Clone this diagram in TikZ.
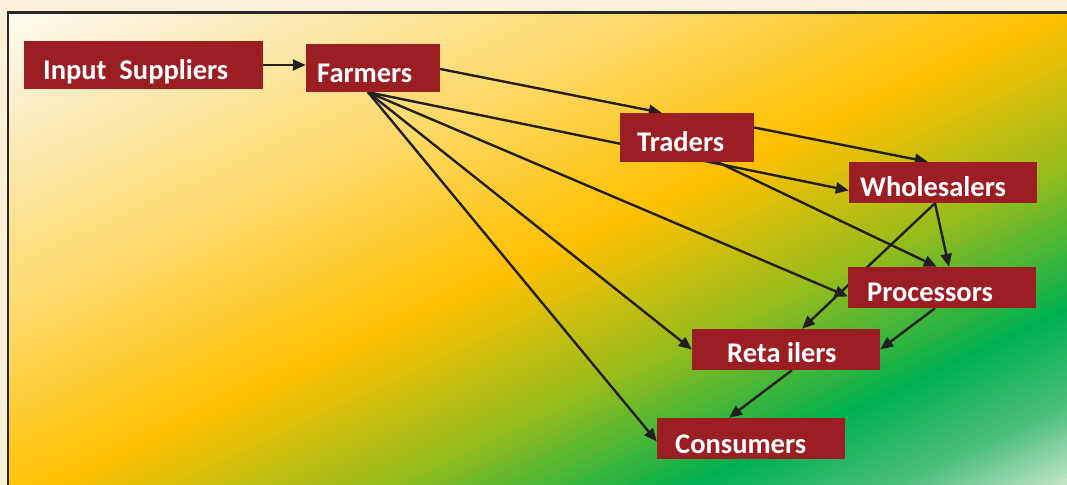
\documentclass[tikz,border=0pt]{standalone}
\usepackage{fontspec}
\setmainfont{Carlito}
\usetikzlibrary{arrows.meta,calc,backgrounds}
\definecolor{boxred}{RGB}{155,30,35}
\definecolor{linec}{RGB}{35,31,32}
\definecolor{marginc}{RGB}{251,241,217}
\definecolor{framec}{RGB}{40,40,40}
\definecolor{g0}{RGB}{255,255,250}
\definecolor{g1}{RGB}{250,238,200}
\definecolor{g2}{RGB}{253,224,133}
\definecolor{g3}{RGB}{254,216,100}
\definecolor{g4}{RGB}{255,192,0}
\definecolor{g5}{RGB}{150,188,28}
\definecolor{g6}{RGB}{0,176,80}
\definecolor{g7}{RGB}{80,192,125}
\definecolor{g8}{RGB}{215,237,215}
\begin{document}
\begin{tikzpicture}[x=1bp,y=-1bp,
  box/.style={fill=boxred, draw=none, inner sep=0pt},
  lbl/.style={text=white, inner sep=0pt, anchor=base west, font=\fontsize{28.6}{30}\selectfont\bfseries},
  conn/.style={draw=linec, line width=2.4bp, -{Triangle[length=13bp,width=11bp]}}]
\useasboundingbox (0,0) rectangle (1067,485);
% background gradient
\begin{pgfonlayer}{background}
\fill[marginc] (-5,-5) rectangle (1075,495);
\begin{scope}
\clip (8,12.5) rectangle (1075,495);
\foreach \sa/\sb/\ca/\cb in {0/100/g0/g1, 100/230/g1/g2, 230/300/g2/g3, 300/460/g3/g4, 460/600/g4/g5, 600/730/g5/g6, 730/820/g6/g7, 820/900/g7/g8, 900/1000/g8/g8} {
  \pgfmathtruncatemacro\nn{(\sb-\sa)/4}
  \foreach \k in {0,...,\nn} {
    \pgfmathsetmacro\pq{\sa+4*\k}
    \pgfmathtruncatemacro\tpc{100*4*\k/(\sb-\sa)}
    \fill[\cb!\tpc!\ca] ({0.4226*\pq-1359},{0.9063*\pq+634}) -- ({0.4226*\pq+1359},{0.9063*\pq-634}) -- ({0.4226*(\pq+5)+1359},{0.9063*(\pq+5)-634}) -- ({0.4226*(\pq+5)-1359},{0.9063*(\pq+5)+634}) -- cycle;
  }
}
\end{scope}
\end{pgfonlayer}
\draw[framec, line width=2.5bp] (8,500) -- (8,12.5) -- (1080,12.5);
% boxes
\node[box, minimum width=239bp, minimum height=48bp] (IS) at (143.5,65) {};
\node[box, minimum width=134bp, minimum height=48bp] (FA) at (373,68) {};
\node[box, minimum width=134bp, minimum height=49bp] (TR) at (687,137.5) {};
\node[box, minimum width=188bp, minimum height=41bp] (WH) at (943,182.5) {};
\node[box, minimum width=188bp, minimum height=41bp] (PR) at (942,287.5) {};
\node[box, minimum width=188bp, minimum height=41bp] (RE) at (786,349.5) {};
\node[box, minimum width=188bp, minimum height=41bp] (CO) at (751,438.5) {};
% labels
\node[lbl] (tIS) at (43,80) {Input\ \ Suppliers};
\node[lbl] (tFA) at (317,83) {Farmers};
\node[lbl] (tTR) at (637,152) {Traders};
\node[lbl] (tWH) at (860,197) {Wholesalers};
\node[lbl] (tPR) at (867,302) {Processors};
\node[lbl] (tRE) at (727,363) {Reta ilers};
\node[lbl] (tCO) at (675,453) {Consumers};
\coordinate (fo) at ($(FA.south)+(-5,0)$);
% connectors
\begin{pgfonlayer}{background}
\draw[conn] (IS.east) -- (IS.east -| FA.west);
\draw[conn] ($(FA.east)+(0,1)$) -- ($(TR.north west)+(42,0)$);
\draw[conn] (fo) -- ($(WH.west)+(0,8)$);
\draw[conn] (fo) -- ($(PR.west)+(0,9)$);
\draw[conn] (fo) -- (RE.west);
\draw[conn] (fo) -- ($(CO.west)+(0,3)$);
\draw[conn] ($(TR.east)+(0,-10)$) -- ($(WH.north west)+(79,0)$);
\draw[conn] ($(TR.center)+(0,10)$) -- ($(PR.north west)+(89,0)$);
\draw[conn] ($(WH.south)+(-8,0)$) -- ($(PR.north)+(7,0)$);
\draw[conn] ($(WH.south)+(-8,0)$) -- ($(RE.north)+(16,0)$);
\draw[conn] ($(PR.south)+(-7,0)$) -- (RE.east);
\draw[conn] ($(RE.south)+(6,0)$) -- ($(CO.north)+(-22,0)$);
\end{pgfonlayer}
\end{tikzpicture}
\end{document}
